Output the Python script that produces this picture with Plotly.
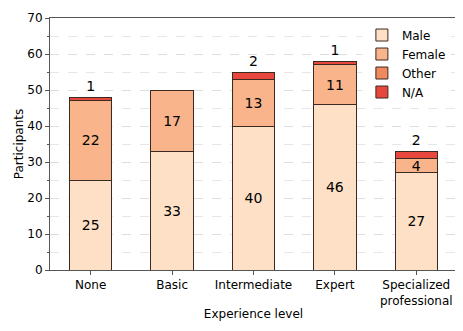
import plotly.graph_objects as go

categories = ["None", "Basic", "Intermediate", "Expert", "Specialized<br>professional"]
male = [25, 33, 40, 46, 27]
female = [22, 17, 13, 11, 4]
other = [0, 0, 0, 0, 0]
na = [1, 0, 2, 1, 2]

colors = {"Male": "#fde0c5", "Female": "#f9b48b", "Other": "#f08a5e", "N/A": "#e8473e"}
FONT = "DejaVu Sans"


def labels(vals):
    return [str(v) if v > 0 else "" for v in vals]


fig = go.Figure()
for name, vals, pos in [("Male", male, "inside"), ("Female", female, "inside"),
                        ("Other", other, "inside"), ("N/A", na, "outside")]:
    fig.add_trace(go.Bar(
        x=categories, y=vals, name=name,
        marker=dict(color=colors[name], line=dict(color="#3a2a22", width=1)),
        text=labels(vals), textposition=pos, insidetextanchor="middle",
        textangle=0, cliponaxis=False,
        textfont=dict(family=FONT, size=14, color="black"),
        width=0.52,
    ))

# page body adds an 8px offset, so the figure is a bit smaller than the window
fig.update_layout(
    barmode="stack",
    width=455, height=323,
    margin=dict(l=42, r=6, t=10, b=61),
    plot_bgcolor="white", paper_bgcolor="white",
    font=dict(family=FONT, size=12, color="black"),
    uniformtext=dict(minsize=14, mode="show"),
    legend=dict(x=0.985, y=0.99, xanchor="right", yanchor="top",
                traceorder="normal",
                bgcolor="rgba(255,255,255,0.9)", borderwidth=0,
                font=dict(family=FONT, size=12), tracegroupgap=0,
                itemwidth=30),
    showlegend=True,
)
fig.update_xaxes(
    range=[-0.5, 4.5], showline=True, mirror=True, linecolor="#555", linewidth=1,
    ticks="outside", ticklen=4, tickcolor="#555", automargin=False,
    title=dict(text="Experience level", font=dict(size=12), standoff=2),
    tickfont=dict(size=12),
)
fig.update_yaxes(
    range=[0, 70], dtick=10, showline=True, mirror=True, linecolor="#555", linewidth=1,
    ticks="outside", ticklen=4, tickcolor="#555", automargin=False,
    showgrid=True, gridcolor="#dddddd", griddash="dash", gridwidth=1,
    minor=dict(dtick=5, showgrid=True, gridcolor="#e6e6e6", griddash="dash",
               ticks="outside", ticklen=2, tickcolor="#555"),
    title=dict(text="Participants", font=dict(size=12), standoff=1),
    tickfont=dict(size=12), zeroline=False,
)

fig.write_html("out.html")
